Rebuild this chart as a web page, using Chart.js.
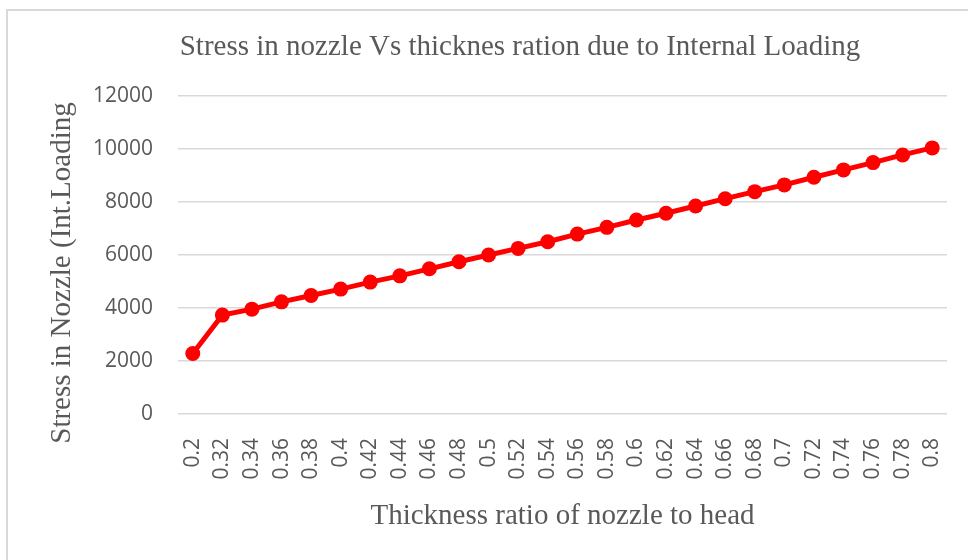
<!DOCTYPE html>
<html>
<head>
<meta charset="utf-8">
<script src="https://cdn.jsdelivr.net/npm/chart.js@4.4.1/dist/chart.umd.min.js"></script>
<style>
  html, body { margin: 0; padding: 0; background: #fff; overflow: hidden; }
  #frame {
    position: absolute; left: 6px; top: 9px; width: 1000px; height: 600px;
    border: 2px solid #d9d9d9; box-sizing: border-box;
  }
  #wrap { position: absolute; left: 0; top: 0; width: 968px; height: 560px; }
</style>
</head>
<body>
<div id="frame"></div>
<div id="wrap"><canvas id="stressChart" width="968" height="560"></canvas></div>
<script>
// Thickness ratio (nozzle / head) on the category axis
const ratios = ['0.2', '0.32', '0.34', '0.36', '0.38', '0.4', '0.42', '0.44', '0.46', '0.48',
                '0.5', '0.52', '0.54', '0.56', '0.58', '0.6', '0.62', '0.64', '0.66', '0.68',
                '0.7', '0.72', '0.74', '0.76', '0.78', '0.8'];

// Stress in nozzle due to internal loading
const stressValues = [2280, 3730, 3955, 4230, 4470, 4710, 4975, 5210, 5475, 5740,
                      5995, 6245, 6495, 6785, 7040, 7315, 7570, 7845, 8120, 8385,
                      8640, 8930, 9205, 9480, 9770, 10035];

const yTicks = [0, 2000, 4000, 6000, 8000, 10000, 12000];

const textColor = '#595959';
const gridColor = '#d9d9d9';

// y axis title drawn by hand so it can sit where Excel puts it
const yTitlePlugin = {
    id: 'yTitle',
    afterDraw(chart) {
        const ctx = chart.ctx;
        ctx.save();
        ctx.translate(62, 273);
        ctx.rotate(-Math.PI / 2);
        ctx.font = '29px "Liberation Serif"';
        ctx.fillStyle = textColor;
        ctx.textAlign = 'center';
        ctx.textBaseline = 'middle';
        ctx.fillText('Stress in Nozzle (Int.Loading', 0, 0);
        ctx.restore();
    }
};

new Chart(document.getElementById('stressChart'), {
    type: 'line',
    data: {
        labels: ratios,
        datasets: [{
            label: 'Stress',
            data: stressValues,
            borderColor: '#ff0000',
            backgroundColor: '#ff0000',
            borderWidth: 5,
            pointRadius: 7.5,
            pointBorderWidth: 0,
            pointBackgroundColor: '#ff0000',
            tension: 0
        }]
    },
    options: {
        responsive: false,
        animation: false,
        layout: { padding: { left: 93, right: 21, top: 0, bottom: 22 } },
        plugins: {
            legend: { display: false },
            tooltip: { enabled: false },
            title: {
                display: true,
                text: 'Stress in nozzle Vs thicknes ration due to Internal Loading',
                color: textColor,
                font: { family: '"Liberation Serif"', size: 29, weight: 'normal' },
                padding: { top: 30, bottom: 31 }
            }
        },
        scales: {
            x: {
                offset: true,
                grid: { display: false, drawTicks: false },
                border: { display: false },
                ticks: {
                    color: textColor,
                    font: { family: '"Open Sans"', size: 21 },
                    minRotation: 90,
                    maxRotation: 90,
                    autoSkip: false,
                    padding: 24
                },
                title: {
                    display: true,
                    text: 'Thickness ratio of nozzle to head',
                    color: textColor,
                    font: { family: '"Liberation Serif"', size: 29 },
                    padding: { top: 4, bottom: 4 }
                },
                afterFit(scale) {
                    scale.height = 124;
                    scale.paddingLeft = 0;
                    scale.paddingRight = 0;
                }
            },
            y: {
                min: 0,
                max: 12000,
                afterBuildTicks(scale) { scale.ticks = yTicks.map(v => ({ value: v })); },
                grid: { color: gridColor, lineWidth: 1.5, drawTicks: false },
                border: { display: false },
                ticks: {
                    color: textColor,
                    font: { family: '"Open Sans"', size: 21 },
                    padding: 25,
                    callback: v => String(v)
                },
                afterFit(scale) { scale.width = 85; }
            }
        }
    },
    plugins: [yTitlePlugin]
});
</script>
</body>
</html>
